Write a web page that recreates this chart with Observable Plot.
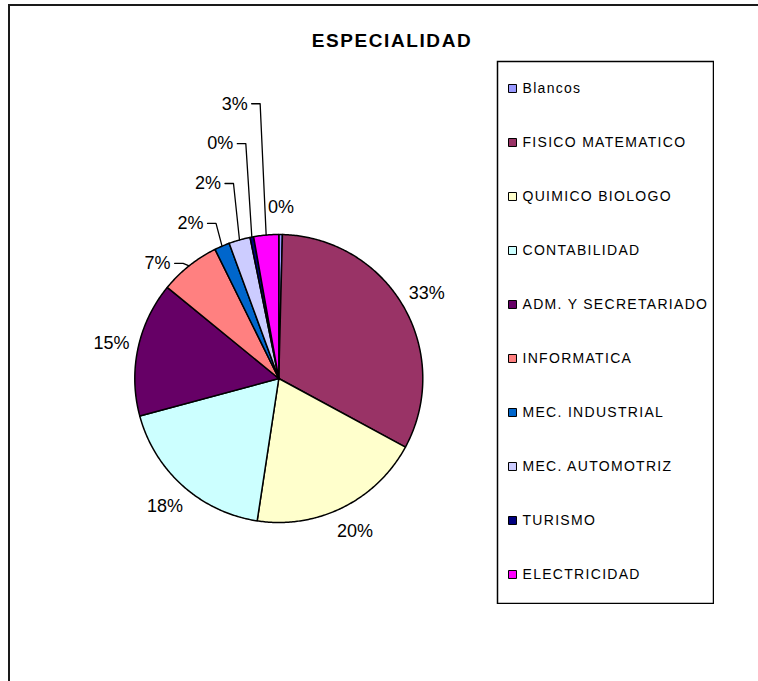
<!DOCTYPE html>
<html>
<head>
<meta charset="utf-8">
<script src="https://cdn.jsdelivr.net/npm/d3@7"></script>
<script src="https://cdn.jsdelivr.net/npm/@observablehq/plot@0.6"></script>
<style>
  html, body { margin: 0; padding: 0; background: #fff; overflow: hidden; }
  #wrap { position: relative; width: 758px; height: 681px; overflow: hidden; background: #fff;
          font-family: Arial, "Liberation Sans", sans-serif; }
  #pie { position: absolute; left: 0; top: 0; }
  #legend { position: absolute; left: 496px; top: 60px; }
  #title { position: absolute; left: 292px; top: 30.5px; width: 200px; text-align: center;
           font: bold 19px/19px Arial, "Liberation Sans", sans-serif; letter-spacing: 1.6px; color: #000; }
  #frame { position: absolute; left: 8px; top: 4px; width: 900px; height: 900px;
           border-left: 2px solid #1a1a1a; border-top: 2px solid #1a1a1a; pointer-events: none; }
</style>
</head>
<body>
<div id="wrap">
  <div id="pie"></div>
  <div id="legend"></div>
  <div id="title">ESPECIALIDAD</div>
  <div id="frame"></div>
</div>
<script>
// ---- data ----
const categories = ["Blancos", "FISICO MATEMATICO", "QUIMICO BIOLOGO", "CONTABILIDAD",
  "ADM. Y SECRETARIADO", "INFORMATICA", "MEC. INDUSTRIAL", "MEC. AUTOMOTRIZ", "TURISMO", "ELECTRICIDAD"];
const shares = [0.4, 32.5, 19.5, 18.4, 15.1, 6.8, 1.7, 2.4, 0.4, 2.8];
const colors = ["#9999FF", "#993366", "#FFFFCC", "#CCFFFF", "#660066", "#FF8080",
  "#0066CC", "#CCCCFF", "#000080", "#FF00FF"];
const leaderCats = ["INFORMATICA", "MEC. INDUSTRIAL", "MEC. AUTOMOTRIZ", "TURISMO", "ELECTRICIDAD"];

// ---- layout ----
const FONT = 'Arial, "Liberation Sans", sans-serif';
const cx = 278.3, cy = 378, r = 144;

const arcs = d3.pie().sort(null).value(d => d)(shares);

// slice polygons in unit-circle coordinates (y up)
const polys = [];
arcs.forEach((a, i) => {
  const cat = categories[i];
  const n = Math.max(2, Math.ceil((a.endAngle - a.startAngle) / 0.01));
  polys.push({cat, x: 0, y: 0});
  for (let k = 0; k <= n; k++) {
    const t = a.startAngle + (a.endAngle - a.startAngle) * k / n;
    polys.push({cat, x: Math.sin(t), y: Math.cos(t)});
  }
  polys.push({cat, x: 0, y: 0});
});

// labels
const labels = [];
const leaders = [];
arcs.forEach((a, i) => {
  const cat = categories[i];
  const mid = (a.startAngle + a.endAngle) / 2;
  const text = Math.round(shares[i]) + "%";
  const k = leaderCats.indexOf(cat);
  if (k < 0) {
    const R = 1 + 27 / r;
    labels.push({x: Math.sin(mid) * R, y: Math.cos(mid) * R, text, anchor: "middle"});
  } else {
    const level = 0.80 + 0.277 * k;
    const ex = Math.sin(mid), ey = Math.cos(mid);
    const elbow = ex - 6 / r;
    leaders.push({cat, x: ex, y: ey});
    leaders.push({cat, x: elbow, y: level});
    leaders.push({cat, x: elbow - 8.5 / r, y: level});
    labels.push({x: elbow - 12.5 / r, y: level, text, anchor: "end"});
  }
});

const pie = Plot.plot({
  width: 758, height: 681, margin: 0,
  style: {background: "transparent", fontFamily: FONT},
  x: {domain: [-1, 1], range: [cx - r, cx + r], axis: null},
  y: {domain: [-1, 1], range: [cy + r, cy - r], axis: null},
  color: {domain: categories, range: colors},
  marks: [
    Plot.line(polys, {x: "x", y: "y", z: "cat", fill: "cat", stroke: "black",
      strokeWidth: 1.5, strokeLinejoin: "round"}),
    Plot.line(leaders, {x: "x", y: "y", z: "cat", stroke: "black", strokeWidth: 1.3}),
    Plot.text(labels.filter(d => d.anchor === "middle"), {x: "x", y: "y", text: "text",
      fontSize: 18, fontFamily: FONT, fill: "black", textAnchor: "middle"}),
    Plot.text(labels.filter(d => d.anchor === "end"), {x: "x", y: "y", text: "text",
      fontSize: 18, fontFamily: FONT, fill: "black", textAnchor: "end"})
  ]
});
document.getElementById("pie").appendChild(pie);

const legend = Plot.plot({
  width: 218, height: 544, margin: 0,
  style: {background: "transparent", fontFamily: FONT},
  y: {type: "point", domain: categories, range: [27.3, 514], padding: 0, axis: null},
  color: {domain: categories, range: colors},
  marks: [
    Plot.frame({inset: 1, stroke: "black", strokeWidth: 1.5, fill: "white"}),
    Plot.dot(categories, {y: d => d, fill: d => d, stroke: "black", strokeWidth: 1,
      symbol: "square", r: 4.5, frameAnchor: "left", dx: 16}),
    Plot.text(categories, {y: d => d, text: d => d, frameAnchor: "left", dx: 26,
      textAnchor: "start", fontSize: 14, fontFamily: FONT, fill: "black"})
  ]
});
legend.style.letterSpacing = "1.3px";
document.getElementById("legend").appendChild(legend);
</script>
</body>
</html>
